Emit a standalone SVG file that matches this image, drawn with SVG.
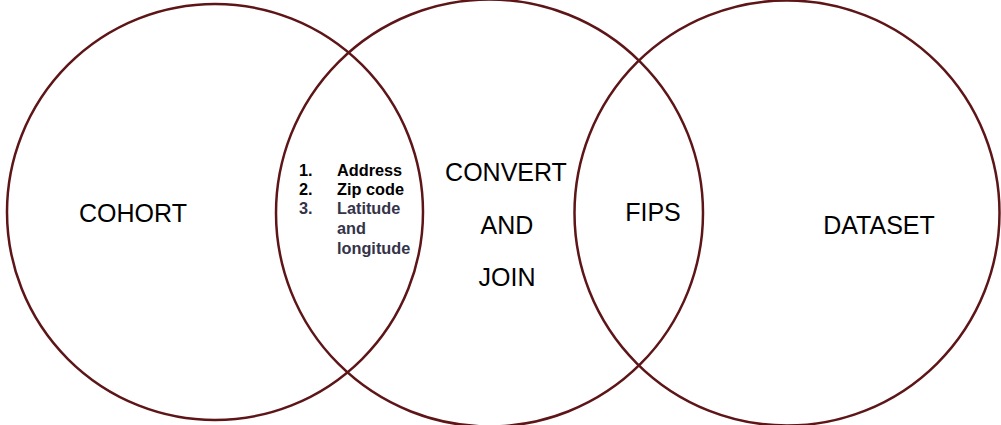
<svg xmlns="http://www.w3.org/2000/svg" width="1001" height="425" viewBox="0 0 1001 425">
<style>
.c{fill:none;stroke:#5e1518;stroke-width:2.5}
.big{font-family:"Liberation Sans",Arial,sans-serif;font-size:25px;fill:#000;text-anchor:middle}
.li{font-family:"Liberation Sans",Arial,sans-serif;font-size:16.3px;font-weight:bold;fill:#000}
.g{fill:#33334a}
</style>
<rect width="1001" height="425" fill="#fff"/>
<g id="cohort">
<circle class="c" cx="215" cy="212" r="208"/>
<text class="big" x="133" y="222">COHORT</text>
</g>
<g id="convert-join">
<circle class="c" cx="489.5" cy="213" r="213.5"/>
<text class="big" x="506" y="181">CONVERT</text>
<text class="big" x="507" y="234">AND</text>
<text class="big" x="507" y="286">JOIN</text>
</g>
<g id="dataset">
<circle class="c" cx="787" cy="213" r="212.5"/>
<text class="big" x="879" y="234">DATASET</text>
</g>
<g id="keys">
<text class="li" x="299" y="176">1.</text>
<text class="li" x="337" y="176">Address</text>
<text class="li" x="299" y="195">2.</text>
<text class="li" x="337" y="195">Zip code</text>
<text class="li g" x="299" y="214">3.</text>
<text class="li g" x="337" y="214">Latitude</text>
<text class="li g" x="337" y="234">and</text>
<text class="li g" x="337" y="254">longitude</text>
</g>
<g id="fips">
<text class="big" x="653" y="221">FIPS</text>
</g>
<g id="connectors"></g>
</svg>
